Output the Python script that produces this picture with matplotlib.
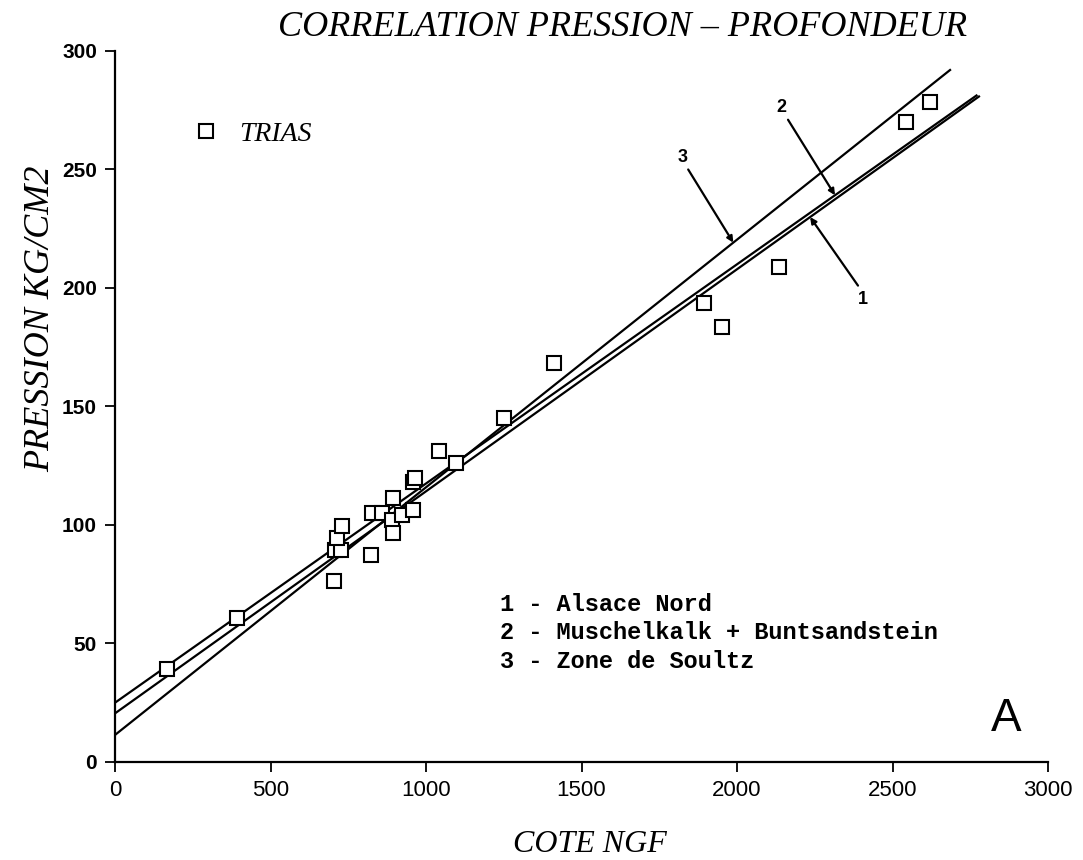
# Pressure vs depth correlation chart (Trias wells) with three fitted lines.
import numpy as np
import matplotlib.pyplot as plt

# DATA
cote_ngf = [168, 393, 705, 707, 726, 713, 729, 822, 825, 857, 893, 890, 893,
            922, 959, 958, 965, 1043, 1098, 1251, 1412, 1895, 1951, 2135,
            2543, 2621]
pression = [39.1, 60.6, 76.4, 89.5, 89.5, 94.4, 99.6, 87.3, 105.0, 105.0,
            111.5, 102.0, 96.8, 104.2, 106.3, 118.0, 120.0, 131.4, 126.3,
            145.3, 168.2, 193.8, 183.7, 208.7, 270.1, 278.6]

# FITTED LINES: 1 - Alsace Nord, 2 - Muschelkalk + Buntsandstein, 3 - Zone de Soultz
fit_ids = ['1', '2', '3']
fit_intercepts = [20.5, 25.0, 11.4]
fit_slopes = [0.0937, 0.0925, 0.1045]
fit_xmax = [2778, 2770, 2685]
fit_arrow_x = [2235, 2315, 1988]

legend_lines = ['1 - Alsace Nord',
                '2 - Muschelkalk + Buntsandstein',
                '3 - Zone de Soultz']

x_ticks = [0, 500, 1000, 1500, 2000, 2500, 3000]
y_ticks = [0, 50, 100, 150, 200, 250, 300]

# LAYOUT OF THE NUMBERED ARROWS (label position, tail offset)
arrow_labels = {'1': (2405, 195), '2': (2143, 276), '3': (1826, 255)}
arrow_tails = {'1': (2389, 201), '2': (2164, 271), '3': (1843, 250)}

fig = plt.figure(figsize=(10.83, 8.6), dpi=100)
ax = fig.add_axes([0.1062, 0.114, 0.8615, 0.8267])

# DRAW THE FIT LINES
for fid, b, a, xm in zip(fit_ids, fit_intercepts, fit_slopes, fit_xmax):
    xs = np.array([0, xm])
    ax.plot(xs, b + a * xs, color='black', lw=1.6, zorder=2)

# DRAW THE POINTS
pts, = ax.plot(cote_ngf, pression, linestyle='none', marker='s', markersize=10,
               markerfacecolor='white', markeredgecolor='black',
               markeredgewidth=1.5, zorder=3)

# ARROWS POINTING TO EACH LINE
for fid, b, a, xa in zip(fit_ids, fit_intercepts, fit_slopes, fit_arrow_x):
    ax.annotate('', xy=(xa, b + a * xa), xytext=arrow_tails[fid],
                arrowprops=dict(arrowstyle='-|>', lw=1.6, color='black',
                                mutation_scale=9, shrinkA=0, shrinkB=0))
    lx, ly = arrow_labels[fid]
    ax.text(lx, ly, fid, fontsize=13, fontweight='bold', family='Liberation Sans',
            ha='center', va='center')

# TEXT BLOCK WITH LINE NAMES
for i, line in enumerate(legend_lines):
    ax.text(0.413, 0.222 - i * 0.04, line, transform=ax.transAxes,
            family='Liberation Mono', fontweight='bold', fontsize=17,
            va='center', ha='left')

ax.text(0.955, 0.06, 'A', transform=ax.transAxes, fontsize=33,
        family='Liberation Sans', ha='center', va='center')

leg = ax.legend([pts], ['TRIAS'], loc='center left',
                bbox_to_anchor=(0.056, 0.883), frameon=False, handlelength=1.0,
                handletextpad=0.7, prop={'family': 'Liberation Serif',
                                         'style': 'italic', 'size': 20})

ax.set_xlim(0, 3000)
ax.set_ylim(0, 300)
ax.set_xticks(x_ticks)
ax.set_yticks(y_ticks)
ax.set_xticklabels([str(t) for t in x_ticks], family='Liberation Sans',
                   fontsize=16)
ax.set_yticklabels([str(t) for t in y_ticks], family='Liberation Sans',
                   fontsize=15, fontweight='bold')
ax.tick_params(direction='out', length=7, width=1.3, pad=6)
ax.spines['top'].set_visible(False)
ax.spines['right'].set_visible(False)
ax.spines['left'].set_linewidth(1.6)
ax.spines['bottom'].set_linewidth(1.6)

ax.set_xlabel('COTE NGF', family='Liberation Serif', style='italic',
              fontsize=23)
ax.xaxis.set_label_coords(0.509, -0.095)
ax.set_ylabel('PRESSION KG/CM2', family='Liberation Serif', style='italic',
              fontsize=26)
ax.yaxis.set_label_coords(-0.062, 0.624)
fig.text(0.575, 0.968, 'CORRELATION PRESSION \u2013 PROFONDEUR',
         family='Liberation Serif', style='italic', fontsize=26,
         ha='center', va='center')

fig.savefig('out.png', dpi=100)
